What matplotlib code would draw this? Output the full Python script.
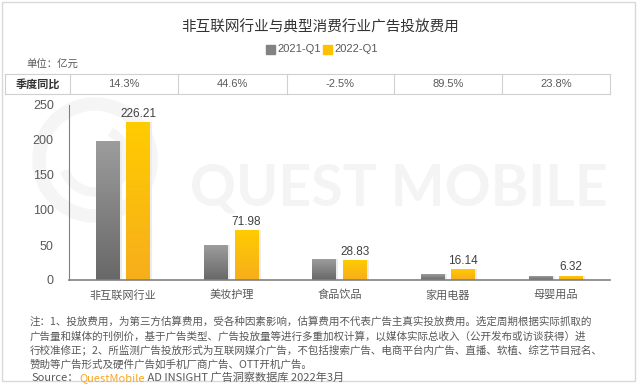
import numpy as np
import matplotlib
matplotlib.use('Agg')
import matplotlib.pyplot as plt
from matplotlib.colors import LinearSegmentedColormap
from matplotlib.patches import Rectangle, Wedge

plt.rcParams['font.family'] = ['Noto Sans CJK SC', 'DejaVu Sans']

categories = ['非互联网行业', '美妆护理', '食品饮品', '家用电器', '母婴用品']
q1_2021 = [197.9, 49.8, 29.6, 8.5, 5.1]
q1_2022 = [226.21, 71.98, 28.83, 16.14, 6.32]
yoy = ['14.3%', '44.6%', '-2.5%', '89.5%', '23.8%']
series_names = ['2021-Q1', '2022-Q1']
title = '非互联网行业与典型消费行业广告投放费用'
notes = [
    '注：1、投放费用，为第三方估算费用，受各种因素影响，估算费用不代表广告主真实投放费用。选定周期根据实际抓取的',
    '广告量和媒体的刊例价，基于广告类型、广告投放量等进行多重加权计算，以媒体实际总收入（公开发布或访谈获得）进',
    '行校准修正；2、所监测广告投放形式为互联网媒介广告，不包括搜索广告、电商平台内广告、直播、软植、综艺节目冠名、',
    '赞助等广告形式及硬件广告如手机厂商广告、OTT开机广告。',
]

W, H = 640, 384
fig = plt.figure(figsize=(6.4, 3.84), dpi=100)

def fx(px):
    return px / W

def fy(py):
    return 1 - py / H

txt_col = '#595959'
line_col = '#d0d0d0'

# outer frame
fig.patches.append(Rectangle((fx(2), fy(381)), fx(633), 379 / H, transform=fig.transFigure,
                             fill=False, ec='#d9d9d9', lw=1))

ax = fig.add_axes([fx(69), fy(280), fx(541), 175 / H])
ax.patch.set_alpha(0)
ax.set_xlim(-0.5, 4.5)
ax.set_ylim(0, 250)

# watermark
ax.text(0.61, 0.52, 'QUEST MOBILE', transform=ax.transAxes, ha='center', va='center',
        fontsize=41, family='Lato', weight='bold', color='#f4f4f4', zorder=0)
# logo ring, placed in inches so it stays round
ctr = (0.95, (H - 160) / 100)
for rad, wid, a1, a2 in [(0.62, 0.12, 0, 360), (0.36, 0.08, 200, 60)]:
    ax.add_patch(Wedge(ctr, rad, a1, a2, width=wid, transform=fig.dpi_scale_trans,
                       color='#f5f5f5', zorder=0, clip_on=False))

x = np.arange(len(categories))
bw = 0.22
off = 0.14

gray_cmap = LinearSegmentedColormap.from_list('g', ['#686868', '#9c9c9c'])
gold_cmap = LinearSegmentedColormap.from_list('y', ['#f7ae1c', '#ffcc00'])

def grad_bars(xs, vals, cmap):
    # soft shadow on the right
    ax.bar(xs + 0.02, vals, bw, color='#ececec', zorder=1, lw=0)
    bars = ax.bar(xs, vals, bw, color='none', zorder=2, lw=0)
    grad = np.linspace(0, 1, 100).reshape(-1, 1)
    for b in bars:
        bx, bh = b.get_x(), b.get_height()
        im = ax.imshow(grad, extent=[bx, bx + bw, 0, bh], origin='lower', aspect='auto',
                       cmap=cmap, zorder=2)
        im.set_clip_path(b)
    return bars

grad_bars(x - off, q1_2021, gray_cmap)
grad_bars(x + off, q1_2022, gold_cmap)
ax.set_xlim(-0.5, 4.5)
ax.set_ylim(0, 250)

for xi, v in zip(x + off, q1_2022):
    ax.text(xi, v + 3, f'{v:.2f}', ha='center', va='bottom', fontsize=8.5, color='#404040',
            family='Liberation Sans')

ax.set_yticks(range(0, 251, 50))
ax.tick_params(axis='y', length=0, labelsize=9, labelcolor=txt_col, pad=11)
ax.tick_params(axis='x', length=0, labelsize=8, labelcolor=txt_col, pad=7)
for lab in ax.get_yticklabels():
    lab.set_family('Liberation Sans')
ax.set_xticks(x)
ax.set_xticklabels(categories)
for s in ['top', 'right']:
    ax.spines[s].set_visible(False)
ax.spines['left'].set_color('#808080')
ax.spines['bottom'].set_color('#808080')
ax.spines['left'].set_linewidth(0.8)
ax.spines['bottom'].set_linewidth(1.2)

# title
fig.text(fx(320), fy(27), title, ha='center', va='center', fontsize=10.5, color='#333333')

# legend
lx = [266, 323]
cols = ['#828282', '#ffc000']
for px, c, name in zip(lx, cols, series_names):
    fig.patches.append(Rectangle((fx(px), fy(54)), fx(9), 9 / H, transform=fig.transFigure,
                                 color=c))
    fig.text(fx(px + 11), fy(49.5), name, ha='left', va='center', fontsize=8, color=txt_col,
             family='Liberation Sans')

fig.text(fx(26), fy(65), '单位：亿元', ha='left', va='center', fontsize=7.5, color=txt_col)

# table
t_top, t_bot = 74, 94
edges = [5, 70, 178, 287, 394, 502, 610]
for yy in (t_top, t_bot):
    fig.lines.append(plt.Line2D([fx(5), fx(610)], [fy(yy)] * 2, transform=fig.transFigure,
                                color=line_col, lw=0.8))
for e in edges:
    fig.lines.append(plt.Line2D([fx(e), fx(e)], [fy(t_top), fy(t_bot)], transform=fig.transFigure,
                                color=line_col, lw=0.8))
fig.text(fx(37.5), fy(84), '季度同比', ha='center', va='center', fontsize=8, color='#333333',
         weight='bold')
for i, v in enumerate(yoy):
    fig.text(fx((edges[i + 1] + edges[i + 2]) / 2), fy(84), v, ha='center', va='center',
             fontsize=8, color=txt_col, family='Liberation Sans')

# notes
for i, line in enumerate(notes):
    fig.text(fx(30), fy(322 + i * 14), line, ha='left', va='center', fontsize=7.6, color=txt_col)

# source line with coloured brand
parts = [('Source：', txt_col), ('QuestMobile', '#f5a623'), (' AD INSIGHT 广告洞察数据库 2022年3月', txt_col)]
fig.canvas.draw()
r = fig.canvas.get_renderer()
cur = fx(32)
for s, c in parts:
    t = fig.text(cur, fy(378), s, ha='left', va='center', fontsize=8, color=c)
    bb = t.get_window_extent(renderer=r)
    cur += bb.width / W

fig.savefig('out.png', dpi=100)
